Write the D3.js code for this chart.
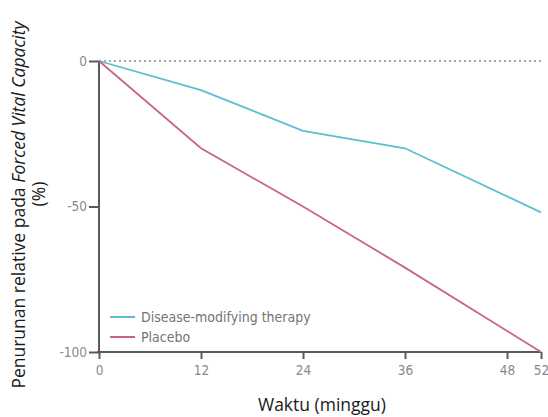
<!DOCTYPE html>
<html>
<head>
  <meta charset="utf-8">
  <title>Forced Vital Capacity</title>
  <style>
    body { margin: 0; background: #fff; }
    .tick text { fill: #8a8a8a; font-family: "DejaVu Sans Condensed", "Liberation Sans", sans-serif; font-size: 13.5px; }
    .axis path, .axis line { stroke: #5a5a5a; stroke-width: 2px; }
    .title { font-family: "Open Sans", "Noto Sans", sans-serif; fill: #1a1a1a; }
    .legend text { font-family: "DejaVu Sans Condensed", sans-serif; font-size: 14px; fill: #747474; }
  </style>
  <script src="https://d3js.org/d3.v7.min.js"></script>
</head>
<body>
<svg width="548" height="417"></svg>
<script>
var weeks = [0, 12, 24, 36, 52];
var therapy = [0, -10, -24, -30, -52];
var placebo = [0, -30, -50, -71, -100];
var xTicks = [0, 12, 24, 36, 48, 52];
var yTicks = [0, -50, -100];
var seriesNames = ["Disease-modifying therapy", "Placebo"];
var colors = ["#5cbfd0", "#c96582"];

var svg = d3.select("svg"),
    margin = {top: 61, right: 7, bottom: 65, left: 99},
    width = +svg.attr("width") - margin.left - margin.right,
    height = +svg.attr("height") - margin.top - margin.bottom;

var x = d3.scaleLinear().domain([0, 52]).range([0, width]),
    y = d3.scaleLinear().domain([-100, 0]).range([height, 0]);

var g = svg.append("g")
    .attr("transform", "translate(" + margin.left + "," + margin.top + ")");

// dotted zero line
g.append("line")
    .attr("x1", x(0)).attr("x2", x(52))
    .attr("y1", y(0)).attr("y2", y(0))
    .attr("stroke", "#8a8a8a")
    .attr("stroke-width", 1.5)
    .attr("stroke-dasharray", "2,3");

g.append("g")
    .attr("class", "axis")
    .attr("transform", "translate(0," + height + ")")
    .call(d3.axisBottom(x).tickValues(xTicks).tickSize(7).tickSizeOuter(0).tickPadding(6))
    .call(function(a) { a.select(".domain").attr("d", "M-2,0H" + width); });

g.append("g")
    .attr("class", "axis")
    .call(d3.axisLeft(y).tickValues(yTicks).tickSize(10).tickSizeOuter(0).tickPadding(2)
      .tickFormat(function(d) { return String(d); }))  // plain hyphen like the original
    .call(function(a) { a.select(".domain").attr("d", "M0,0V" + height); });

var line = d3.line()
    .x(function(d) { return x(d[0]); })
    .y(function(d) { return y(d[1]); });

[therapy, placebo].forEach(function(vals, i) {
  g.append("path")
      .datum(weeks.map(function(w, j) { return [w, vals[j]]; }))
      .attr("fill", "none")
      .attr("stroke", colors[i])
      .attr("stroke-width", 1.8)
      .attr("d", line);
});

var legend = g.append("g").attr("class", "legend")
    .attr("transform", "translate(11," + (height - 35) + ")");
seriesNames.forEach(function(name, i) {
  legend.append("line")
      .attr("x1", 0).attr("x2", 25)
      .attr("y1", i * 20).attr("y2", i * 20)
      .attr("stroke", colors[i]).attr("stroke-width", 2);
  legend.append("text")
      .attr("x", 31).attr("y", i * 20).attr("dy", "0.35em")
      .text(name);
});

svg.append("text")
    .attr("class", "title")
    .attr("x", 322)
    .attr("y", 411)
    .attr("text-anchor", "middle")
    .attr("font-size", 17.5)
    .text("Waktu (minggu)");

var yl = svg.append("text")
    .attr("class", "title")
    .attr("transform", "translate(25,205) rotate(-90)")
    .attr("text-anchor", "middle")
    .attr("font-size", 17.5);
yl.append("tspan").text("Penurunan relative pada ");
yl.append("tspan").attr("font-style", "italic").text("Forced Vital Capacity");
svg.append("text")
    .attr("class", "title")
    .attr("transform", "translate(45,194) rotate(-90)")
    .attr("text-anchor", "middle")
    .attr("font-size", 17.5)
    .text("(%)");
</script>
</body>
</html>
